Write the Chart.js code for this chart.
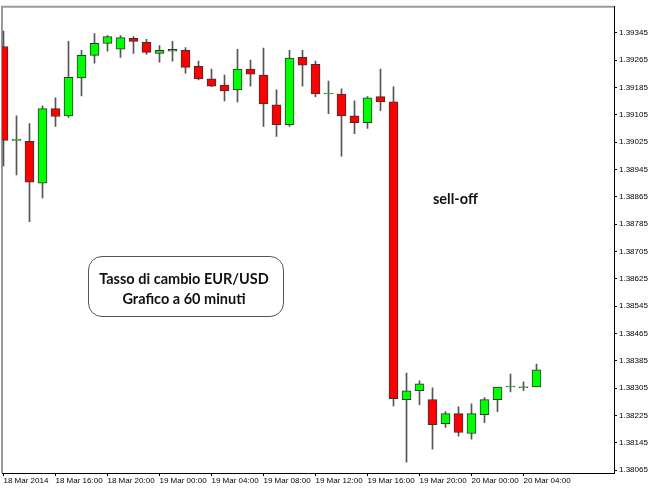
<!DOCTYPE html>
<html>
<head>
<meta charset="utf-8">
<script src="https://cdn.jsdelivr.net/npm/chart.js@4.4.1/dist/chart.umd.min.js"></script>
<style>
  body { margin: 0; background: #fff; overflow: hidden; }
  #wrap { position: relative; width: 650px; height: 488px; }
  .note { position: absolute; font: 700 14.5px Lato, 'Open Sans', sans-serif; color: #111; line-height: 20px; white-space: nowrap; }
  #box { left: 88px; top: 256px; width: 196px; height: 61px; box-sizing: border-box; border: 1px solid #555; border-radius: 14px; text-align: center; padding-top: 12px; padding-right: 4px; }
  #sell { left: 433px; top: 189px; }
</style>
</head>
<body>
<div id="wrap">
  <canvas id="chart" width="650" height="488"></canvas>
  <div class="note" id="box">Tasso di cambio EUR/USD<br>Grafico a 60 minuti</div>
  <div class="note" id="sell">sell-off</div>
</div>
<script>
// EUR/USD, candele orarie dal 18 Mar 2014 12:00
const open = [1.39305, 1.39030, 1.39027, 1.38905, 1.39123, 1.39102, 1.39213, 1.39279, 1.39314, 1.39297,
  1.39329, 1.39317, 1.39285, 1.39291, 1.39294, 1.39247, 1.39210, 1.39192, 1.39178, 1.39239,
  1.39221, 1.39134, 1.39076, 1.39273, 1.39253, 1.39166, 1.39166, 1.39102, 1.39082, 1.39158,
  1.39143, 1.38271, 1.38297, 1.38271, 1.38201, 1.38230, 1.38172, 1.38227, 1.38271, 1.38308,
  1.38306, 1.38308];
const high = [1.39350, 1.39102, 1.39079, 1.39131, 1.39155, 1.39320, 1.39294, 1.39343, 1.39337, 1.39337,
  1.39334, 1.39326, 1.39308, 1.39320, 1.39302, 1.39262, 1.39239, 1.39221, 1.39297, 1.39265,
  1.39300, 1.39178, 1.39294, 1.39294, 1.39262, 1.39204, 1.39181, 1.39146, 1.39158, 1.39239,
  1.39187, 1.38349, 1.38326, 1.38306, 1.38236, 1.38250, 1.38259, 1.38277, 1.38308, 1.38346,
  1.38323, 1.38375];
const low = [1.38955, 1.38929, 1.38792, 1.38862, 1.39071, 1.39097, 1.39160, 1.39256, 1.39291, 1.39273,
  1.39285, 1.39282, 1.39259, 1.39262, 1.39227, 1.39207, 1.39187, 1.39146, 1.39143, 1.39189,
  1.39071, 1.39042, 1.39071, 1.39189, 1.39158, 1.39108, 1.38984, 1.39050, 1.39065, 1.39117,
  1.38253, 1.38088, 1.38256, 1.38126, 1.38190, 1.38164, 1.38155, 1.38204, 1.38236, 1.38294,
  1.38297, 1.38308];
const close = [1.39030, 1.39030, 1.38908, 1.39123, 1.39100, 1.39215, 1.39279, 1.39314, 1.39334, 1.39331,
  1.39320, 1.39288, 1.39294, 1.39297, 1.39244, 1.39210, 1.39189, 1.39175, 1.39239, 1.39224,
  1.39137, 1.39076, 1.39271, 1.39250, 1.39166, 1.39166, 1.39102, 1.39082, 1.39155, 1.39143,
  1.38274, 1.38297, 1.38317, 1.38198, 1.38230, 1.38175, 1.38230, 1.38271, 1.38308, 1.38308,
  1.38307, 1.38358];

const timeTicks = [0, 4, 8, 12, 16, 20, 24, 28, 32, 36, 40];
const timeLabels = ['18 Mar 2014', '18 Mar 16:00', '18 Mar 20:00', '19 Mar 00:00', '19 Mar 04:00',
  '19 Mar 08:00', '19 Mar 12:00', '19 Mar 16:00', '19 Mar 20:00', '20 Mar 00:00', '20 Mar 04:00'];
const priceTicks = [1.38065, 1.38145, 1.38225, 1.38305, 1.38385, 1.38465, 1.38545, 1.38625, 1.38705,
  1.38785, 1.38865, 1.38945, 1.39025, 1.39105, 1.39185, 1.39265, 1.39345];

const bodies = open.map((o, i) => ({ x: i, y: [o, close[i]] }));
const wicks = low.map((l, i) => ({ x: i, y: [l, high[i]] }));
const bodyColors = open.map((o, i) => close[i] >= o ? '#00ff00' : '#ff0000');

// cornice grigia in alto e a sinistra
const frame = {
  id: 'frame',
  beforeDatasetsDraw(chart) {
    const { ctx, chartArea: a } = chart;
    ctx.save();
    ctx.strokeStyle = '#9a9a9a';
    ctx.lineWidth = 2;
    ctx.beginPath();
    ctx.moveTo(a.left, a.bottom);
    ctx.lineTo(a.left, a.top);
    ctx.lineTo(a.right, a.top);
    ctx.stroke();
    ctx.restore();
  }
};

Chart.defaults.font.family = "'Liberation Sans', Arial, sans-serif";
Chart.defaults.font.size = 8;
Chart.defaults.color = '#000';

new Chart(document.getElementById('chart'), {
  type: 'bar',
  data: {
    datasets: [
      {
        label: 'corpo',
        data: bodies,
        backgroundColor: bodyColors,
        borderColor: '#333',
        borderWidth: 1,
        borderSkipped: false,
        barThickness: 9,
        minBarLength: 1,
        grouped: false,
      },
      {
        label: 'ombra',
        data: wicks,
        backgroundColor: '#555',
        borderWidth: 0,
        barThickness: 1,
        grouped: false,
      },
    ],
  },
  options: {
    responsive: false,
    animation: false,
    layout: { padding: { left: 2, top: 2, right: 0, bottom: 0 } },
    plugins: {
      legend: { display: false },
      tooltip: { enabled: false },
    },
    scales: {
      x: {
        type: 'linear',
        offset: false,
        min: -0.1154,
        max: 46.9615,
        afterBuildTicks: (axis) => { axis.ticks = timeTicks.map(v => ({ value: v })); },
        afterFit: (axis) => { axis.height = 15; },
        ticks: {
          autoSkip: false,
          maxRotation: 0,
          align: 'start',
          padding: 0,
          callback: (v) => timeLabels[timeTicks.indexOf(v)],
        },
        grid: { offset: false, drawOnChartArea: false, drawTicks: true, tickLength: 3, color: '#000' },
        border: { display: true, color: '#000', width: 1 },
      },
      y: {
        position: 'right',
        min: 1.380563,
        max: 1.394212,
        afterBuildTicks: (axis) => { axis.ticks = priceTicks.map(v => ({ value: v })); },
        afterFit: (axis) => { axis.width = 36; },
        ticks: {
          padding: 2,
          callback: (v) => v.toFixed(5),
        },
        grid: { drawOnChartArea: false, drawTicks: true, tickLength: 3, color: '#000' },
        border: { display: true, color: '#000', width: 1 },
      },
    },
  },
  plugins: [frame],
});
</script>
</body>
</html>
